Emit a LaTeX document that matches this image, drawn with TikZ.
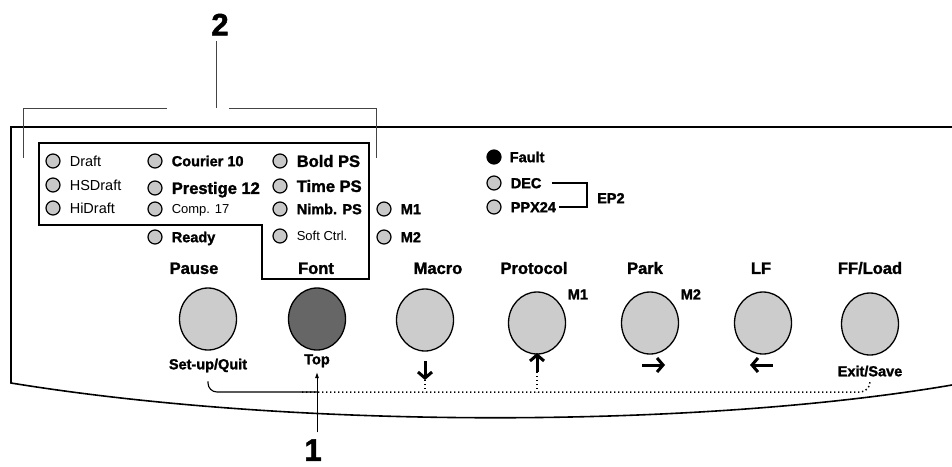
\documentclass[tikz,border=0pt]{standalone}
\usepackage{fontspec}
\setmainfont{Liberation Sans}[BoldFeatures={FakeBold=1.6}]
\usetikzlibrary{arrows.meta,positioning,shapes.geometric}
\definecolor{ledgray}{HTML}{C8C8C8}
\definecolor{keygray}{HTML}{CCCCCC}
\definecolor{topgray}{HTML}{666666}
\definecolor{brkgray}{HTML}{444444}
\tikzset{led/.style={circle,draw,line width=1.2pt,fill=ledgray,minimum size=14pt,inner sep=0pt},
 key/.style={ellipse,draw,line width=1.3pt,minimum width=57pt,minimum height=62pt,inner sep=0pt},
 txt/.style={font=\fontsize{14.5}{16}\selectfont,inner sep=0pt,text height=10.4pt,text depth=0pt},
 btxt/.style={txt,font=\fontsize{14.5}{16}\selectfont\bfseries},
 bigtxt/.style={txt,font=\fontsize{16.5}{18}\selectfont\bfseries,text height=11.8pt},
 nartxt/.style={txt,font=\fontsize{13}{15}\selectfont,text height=9.3pt},
 bignum/.style={font=\fontsize{31}{31}\selectfont\bfseries,inner sep=0pt,text height=22.2pt,text depth=0pt},
 panel/.style={line width=1.6pt},brk/.style={line width=0.9pt,draw=brkgray},
 link/.style={line width=1.1pt},dots/.style={line width=1.5pt,dash pattern=on 1.4pt off 2.6pt},
 symarr/.style={line width=3pt,-{Straight Barb[length=6pt,width=14pt,line width=3pt]}},
 callarr/.style={line width=0.9pt,-{Latex[length=6pt,width=4pt]}}}
\begin{document}
\begin{tikzpicture}[x=1pt,y=-1pt]
\useasboundingbox (0,0) rectangle (952,466);
% panel outline and font frame
\draw[panel] (952,127) -- (11,127) -- (11,383) .. controls (300,430) and (700,428) .. (952,385);
\draw[panel] (39,143) -- (369,143) -- (369,279) -- (262,279) -- (262,225) -- (39,225) -- cycle;
% leds
\foreach \n/\x/\y/\s/\t in {draft/53/161/txt/Draft,hsd/53/185/txt/HSDraft,hid/53/208/txt/HiDraft,
 cour/155/161/btxt/Courier 10,pres/155/188/bigtxt/Prestige 12,comp/155/209/nartxt/Comp. 17,ready/155/237/btxt/Ready,
 bold/280/161/bigtxt/Bold PS,time/280/186/bigtxt/Time PS,nimb/280/209/btxt/Nimb. PS,soft/280/236/nartxt/Soft Ctrl.,
 mone/384/209/btxt/M1,mtwo/384/237/btxt/M2,dec/494/183/btxt/DEC,ppx/494/207/btxt/PPX24}{
 \node[led] (\n) at (\x,\y) {};
 \node[\s,right=9pt of \n] (\n-t) {\t};
}
\node[led,fill=black] (fault) at (494,157) {};
\node[btxt,right=8pt of fault] (fault-t) {Fault};
\node[btxt,anchor=west] (ep2) at (597,198) {EP2};
\draw[link] ([xshift=10pt]dec-t.east) -| ([xshift=-10pt]ep2.west) |- ([xshift=3pt]ppx-t.east);
% keys
\foreach \n/\lx/\kx/\ky/\c/\t in {pause/194/208/319/keygray/Pause,font/316/317/319/topgray/Font,
 macro/438/425/320/keygray/Macro,prot/534/537/323/keygray/Protocol,park/645/650/323/keygray/Park,
 lf/761/763/323/keygray/LF,ff/870/870/324/keygray/{FF/Load}}{
 \node[bigtxt] (\n-l) at (\lx,268) {\t};
 \node[key,fill=\c] (\n) at (\kx,\ky) {};
}
\node[btxt,anchor=south west] at ([xshift=10pt,yshift=1pt]prot.north east) {M1};
\node[btxt,anchor=south west] at ([xshift=10pt,yshift=1pt]park.north east) {M2};
\node[btxt,below=8pt of pause] (setup) {Set-up/Quit};
\node[btxt,below=3pt of font] (top) {Top};
\node[btxt,below=10pt of ff] (exit) {Exit/Save};
% key symbols
\coordinate (dn) at (425,380);
\coordinate (up) at (537,372);
\draw[symarr] (425,361) -- (dn);
\draw[symarr] (up) -- (537,353);
\draw[symarr] (642,365) -- (665,365);
\draw[symarr] (773,365) -- (750,365);
% combination line
\coordinate (j) at (317,392);
\coordinate (d) at (302,392);
\draw[link,rounded corners=9pt] ([yshift=-12pt]setup.south) |- (j);
\draw[dots,rounded corners=10pt] (d) -| ([yshift=-5pt]exit.south);
\draw[dots] (dn) -- (dn |- j);
\draw[dots] (up) -- (up |- j);
% callouts
\node[bignum,anchor=south] (one) at (313,461) {1};
\coordinate (tip) at (317,372);
\draw[callarr] ([yshift=6pt]tip |- one.north) -- (tip);
\node[bignum,anchor=north] (two) at (220,13) {2};
\coordinate (stem) at (216,108);
\draw[brk] (stem) -- ([yshift=-5pt]stem |- two.south);
\draw[brk] (23,158) |- (167,108);
\draw[brk] (229,108) -| (376,158);
\end{tikzpicture}
\end{document}
